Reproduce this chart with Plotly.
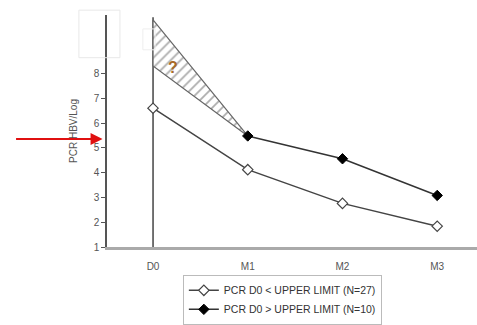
import plotly.graph_objects as go

# Visit labels and viral load (log) per group
visits = ["D0", "M1", "M2", "M3"]
below_limit = [6.6, 4.12, 2.76, 1.84]      # PCR D0 < upper limit (N=27)
above_limit = [None, 5.48, 4.56, 3.08]     # PCR D0 > upper limit (N=10)
unknown_d0 = [10.16, 8.3]                  # uncertain D0 range for the >limit group
y_ticks = [1, 2, 3, 4, 5, 6, 7, 8]

xpos = list(range(len(visits)))
grey = "#555555"
font = "Liberation Sans, Arial, sans-serif"

fig = go.Figure()

# Hatched uncertainty wedge between the D0 range and the M1 value
fig.add_trace(go.Scatter(
    x=[0, 0, xpos[1], 0],
    y=[unknown_d0[0], unknown_d0[1], above_limit[1], unknown_d0[0]],
    mode="lines", fill="toself",
    line=dict(color="#666666", width=1.2),
    fillcolor="rgba(0,0,0,0)",
    fillpattern=dict(shape="/", fgcolor="#5a5a5a", bgcolor="white", size=7, solidity=0.25),
    hoverinfo="skip", showlegend=False,
))

fig.add_trace(go.Scatter(
    x=xpos, y=below_limit, mode="lines+markers",
    name="PCR D0 < UPPER LIMIT (N=27)",
    line=dict(color="#444444", width=1.5),
    marker=dict(symbol="diamond", size=8, color="white", line=dict(color="#444444", width=1.2)),
))
fig.add_trace(go.Scatter(
    x=xpos, y=above_limit, mode="lines+markers",
    name="PCR D0 > UPPER LIMIT (N=10)",
    line=dict(color="#333333", width=1.5),
    marker=dict(symbol="diamond", size=8, color="black", line=dict(color="black", width=1)),
))

# Vertical baseline at D0
fig.add_shape(type="line", xref="x", yref="paper", x0=0, x1=0, y0=0, y1=0.99,
              line=dict(color="#444444", width=1.5), layer="below")

# Faint boxes in the upper-left corner
fig.add_shape(type="rect", xref="paper", yref="paper",
              x0=-0.076, x1=0.035, y0=0.816, y1=1.021,
              line=dict(color="#e8e8e8", width=1))
fig.add_shape(type="rect", xref="paper", yref="paper",
              x0=0.097, x1=0.13, y0=0.85, y1=0.94,
              line=dict(color="#eeeeee", width=1))

fig.add_annotation(x=0.21, y=8.25, text="<b>?</b>", showarrow=False,
                   font=dict(family=font, size=16, color="#a86a28"))

# Red pointer arrow toward the y axis
fig.add_annotation(xref="paper", x=-0.012, y=5.36, ax=-88, ay=0,
                   showarrow=True, arrowhead=2, arrowsize=1.2, arrowwidth=2,
                   arrowcolor="#e01010", text="")

fig.update_layout(
    width=477, height=325,
    margin=dict(l=107, r=0, t=15, b=76),
    paper_bgcolor="white", plot_bgcolor="white",
    font=dict(family=font, color=grey, size=10),
    showlegend=True,
    legend=dict(x=0.205, y=-0.12, xanchor="left", yanchor="top",
                bordercolor="#bbbbbb", borderwidth=1, bgcolor="white",
                font=dict(size=10.5, color="#333333"),
                tracegroupgap=0, itemwidth=30),
    xaxis=dict(range=[-0.486, 3.42], tickmode="array", tickvals=xpos, ticktext=visits,
               showgrid=False, zeroline=False, showline=True,
               linecolor="#aaaaaa", linewidth=3, ticks="outside", ticklen=8,
               tickcolor="rgba(0,0,0,0)", tickfont=dict(size=10, color=grey)),
    yaxis=dict(range=[1, 10.36], tickmode="array", tickvals=y_ticks,
               showgrid=False, zeroline=False, showline=True,
               linecolor="#555555", linewidth=1.5, ticks="outside", ticklen=4,
               tickcolor="#555555", tickfont=dict(size=10, color=grey),
               title=dict(text="PCR HBV/Log", font=dict(size=10, color=grey), standoff=14)),
)

fig.write_html("out.html")
